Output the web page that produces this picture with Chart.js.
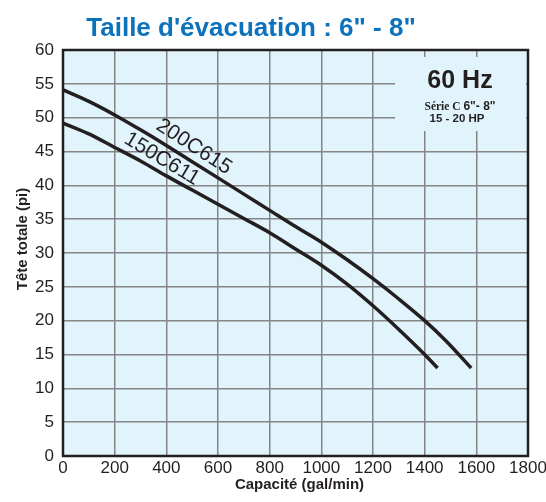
<!DOCTYPE html>
<html>
<head>
<meta charset="utf-8">
<script src="https://cdn.jsdelivr.net/npm/chart.js@4.4.1/dist/chart.umd.min.js"></script>
<style>
html,body{margin:0;padding:0;background:#fff;}
#wrap{width:546px;height:502px;position:relative;}
</style>
</head>
<body>
<div id="wrap"><canvas id="c" width="546" height="502"></canvas></div>
<script>
// Data
const capacity200 = [0, 100, 200, 300, 400, 500, 600, 700, 800, 900, 1000, 1100, 1200, 1300, 1400, 1480, 1580];
const head200     = [54.1, 52.4, 50.4, 48.2, 45.9, 43.5, 41.1, 38.7, 36.3, 33.9, 31.6, 29.0, 26.2, 23.2, 20.0, 17.1, 13.0];
const capacity150 = [0, 100, 200, 300, 400, 500, 600, 700, 800, 900, 1000, 1100, 1200, 1300, 1400, 1450];
const head150     = [49.2, 47.6, 45.6, 43.6, 41.4, 39.3, 37.2, 35.1, 33.0, 30.6, 28.2, 25.4, 22.2, 18.7, 15.0, 13.0];
const seriesNames = ['200C615', '150C611'];
const xTicks = [0, 200, 400, 600, 800, 1000, 1200, 1400, 1600, 1800];
const yTicks = [0, 5, 10, 15, 20, 25, 30, 35, 40, 45, 50, 55, 60];
const titleText = 'Taille d\'évacuation : 6" - 8"';
const xTitle = 'Capacité (gal/min)';
const yTitle = 'Tête totale (pi)';
const boxLines = ['60 Hz', 'Série C', '6"- 8"', '15 - 20 HP'];

const INK = '#231f20';
const BG = '#e1f3fb';
const GRID = '#858585';
const SANS = '"Liberation Sans", Arial, Helvetica, sans-serif';
const SERIF = '"Liberation Serif", "Times New Roman", serif';

function pts(xs, ys){ return xs.map((x,i)=>({x:x, y:ys[i]})); }

const decor = {
  id: 'decor',
  beforeDraw(chart){
    const {ctx, chartArea:a} = chart;
    ctx.save();
    ctx.fillStyle = BG;
    ctx.fillRect(a.left, a.top, a.right-a.left, a.bottom-a.top);
    ctx.restore();
  },
  beforeDatasetsDraw(chart){
    const {ctx, chartArea:a} = chart;
    ctx.save();
    // annotation box covering grid lines
    ctx.fillStyle = BG;
    ctx.fillRect(a.right-133, a.top+7, 131, 74);
    ctx.fillStyle = INK;
    ctx.textAlign = 'center';
    ctx.textBaseline = 'alphabetic';
    ctx.font = 'bold 25px ' + SANS;
    ctx.fillText(boxLines[0], a.right-68, a.top+38);
    // Série C 6"- 8"
    ctx.font = 'bold 11.5px ' + SERIF;
    const w1 = ctx.measureText(boxLines[1] + ' ').width;
    ctx.font = 'bold 12px ' + SANS;
    const w2 = ctx.measureText(boxLines[2]).width;
    let sx = a.right-68 - (w1+w2)/2;
    ctx.textAlign = 'left';
    ctx.font = 'bold 11.5px ' + SERIF;
    ctx.fillText(boxLines[1] + ' ', sx, a.top+60);
    ctx.font = 'bold 12px ' + SANS;
    ctx.fillText(boxLines[2], sx+w1, a.top+60);
    ctx.textAlign = 'center';
    ctx.font = 'bold 11.5px ' + SANS;
    ctx.fillText(boxLines[3], a.right-71, a.top+71.5);
    ctx.restore();
  },
  afterDatasetsDraw(chart){
    const {ctx, chartArea:a, scales} = chart;
    const xs = scales.x, ys = scales.y;
    ctx.save();
    // curve labels
    ctx.fillStyle = INK;
    ctx.font = '21px ' + SANS;
    ctx.textAlign = 'center';
    ctx.textBaseline = 'middle';
    ctx.save();
    ctx.translate(xs.getPixelForValue(507), ys.getPixelForValue(45.7));
    ctx.rotate(33*Math.PI/180);
    ctx.fillText(seriesNames[0], 0, 0);
    ctx.restore();
    ctx.save();
    ctx.translate(xs.getPixelForValue(383), ys.getPixelForValue(43.9));
    ctx.rotate(31*Math.PI/180);
    ctx.fillText(seriesNames[1], 0, 0);
    ctx.restore();
    // border
    ctx.strokeStyle = INK;
    ctx.lineWidth = 2.5;
    ctx.strokeRect(a.left, a.top, a.right-a.left, a.bottom-a.top);
    // chart title
    ctx.fillStyle = '#0b72bb';
    ctx.font = 'bold 26px ' + SANS;
    ctx.textAlign = 'center';
    ctx.textBaseline = 'alphabetic';
    ctx.fillText(titleText, 251, 36);
    // axis titles
    ctx.fillStyle = INK;
    ctx.font = 'bold 15px ' + SANS;
    ctx.textBaseline = 'alphabetic';
    ctx.fillText(xTitle, (a.left+a.right)/2 + 4, 489);
    ctx.save();
    ctx.translate(27, 239);
    ctx.rotate(-Math.PI/2);
    ctx.fillText(yTitle, 0, 0);
    ctx.restore();
    ctx.restore();
  }
};

const lineStyle = {
  borderColor: INK, borderWidth: 3.5, pointRadius: 0, fill: false,
  cubicInterpolationMode: 'monotone', borderCapStyle: 'butt'
};

new Chart(document.getElementById('c'), {
  type: 'line',
  data: {
    datasets: [
      Object.assign({label: seriesNames[0], data: pts(capacity200, head200)}, lineStyle),
      Object.assign({label: seriesNames[1], data: pts(capacity150, head150)}, lineStyle)
    ]
  },
  options: {
    responsive: false,
    animation: false,
    devicePixelRatio: 1,
    layout: {padding: {left: 0, right: 18, top: 50, bottom: 0}},
    plugins: {legend: {display: false}, title: {display: false}, tooltip: {enabled: false}},
    scales: {
      x: {
        type: 'linear', min: 0, max: 1800,
        afterBuildTicks(s){ s.ticks = xTicks.map(v=>({value:v})); },
        afterFit(s){ s.height = 46; s.paddingLeft = 0; s.paddingRight = 0; },
        grid: {color: GRID, lineWidth: 1.5, drawTicks: false},
        border: {display: false},
        ticks: {color: INK, font: {family: SANS, size: 17}, padding: 2, maxRotation: 0, autoSkip: false,
                callback: v => String(v)}
      },
      y: {
        type: 'linear', min: 0, max: 60,
        afterBuildTicks(s){ s.ticks = yTicks.map(v=>({value:v})); },
        afterFit(s){ s.width = 63; },
        grid: {color: GRID, lineWidth: 1.5, drawTicks: false},
        border: {display: false},
        ticks: {color: INK, font: {family: SANS, size: 17}, padding: 9, callback: v => String(v)}
      }
    }
  },
  plugins: [decor]
});
</script>
</body>
</html>
